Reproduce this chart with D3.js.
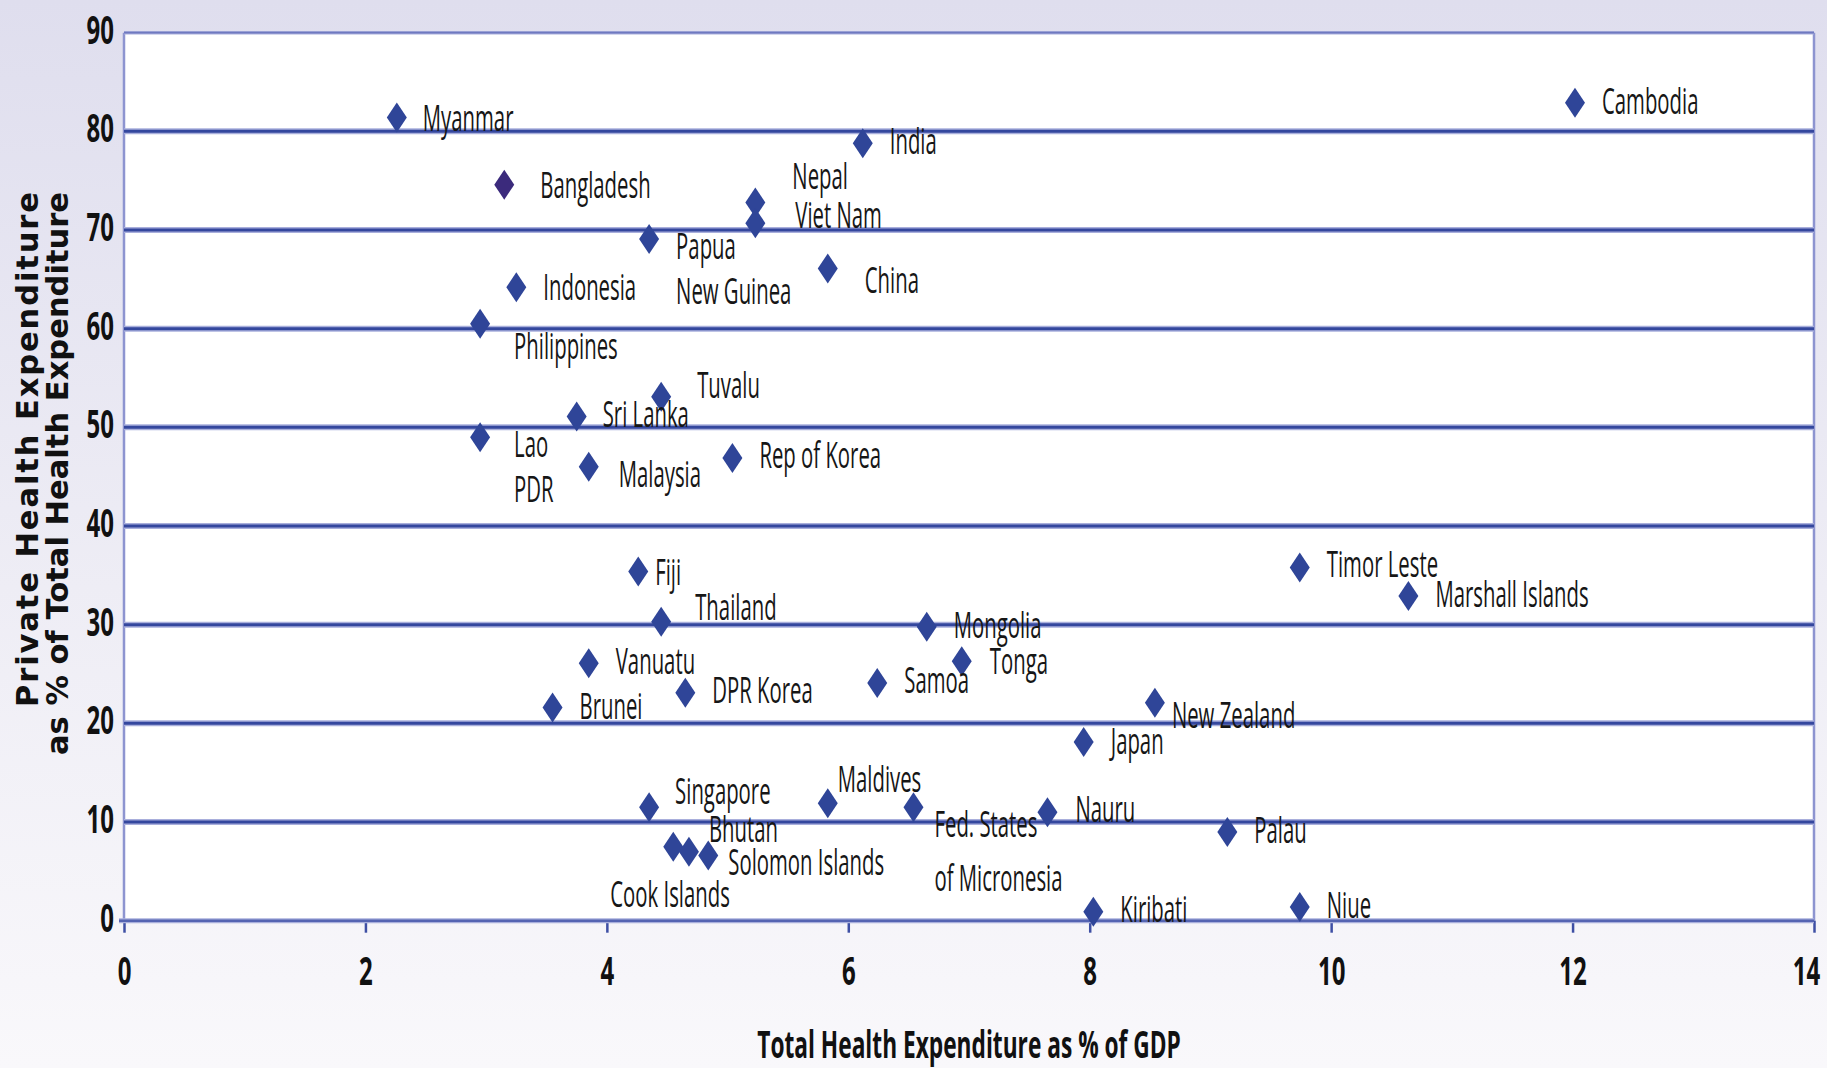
<!DOCTYPE html>
<html>
<head>
<meta charset="utf-8">
<script src="https://cdn.jsdelivr.net/npm/d3@7"></script>
<style>
  html, body { margin: 0; padding: 0; background: #fff; }
  svg { display: block; }
</style>
</head>
<body>
<svg id="chart" width="1827" height="1068"></svg>
<script>
// ---------------- DATA ----------------
const countries = [
  "Myanmar", "Bangladesh", "India", "Nepal", "Viet Nam", "Papua New Guinea", "China",
  "Indonesia", "Philippines", "Tuvalu", "Sri Lanka", "Lao PDR", "Malaysia", "Rep of Korea",
  "Cambodia", "Fiji", "Thailand", "Mongolia", "Tonga", "Vanuatu", "Samoa", "DPR Korea",
  "Brunei", "New Zealand", "Japan", "Timor Leste", "Marshall Islands", "Singapore",
  "Maldives", "Fed. States of Micronesia", "Nauru", "Palau", "Cook Islands", "Bhutan",
  "Solomon Islands", "Kiribati", "Niue"
];
// Total health expenditure as % of GDP (x)
const totalHealthExpGDP = [
  2.26, 3.15, 6.12, 5.23, 5.23, 4.35, 5.83,
  3.25, 2.95, 4.45, 3.75, 2.95, 3.85, 5.04,
  12.02, 4.26, 4.45, 6.65, 6.94, 3.85, 6.24, 4.65,
  3.55, 8.54, 7.95, 9.74, 10.64, 4.35,
  5.83, 6.54, 7.65, 9.14, 4.55, 4.68,
  4.84, 8.03, 9.74
];
// Private health expenditure as % of total health expenditure (y)
const privateHealthShare = [
  81.4, 74.6, 78.8, 72.8, 70.7, 69.1, 66.1,
  64.2, 60.5, 53.1, 51.1, 49.0, 46.0, 46.9,
  82.9, 35.4, 30.3, 29.8, 26.3, 26.1, 24.1, 23.1,
  21.6, 22.1, 18.1, 35.8, 32.9, 11.5,
  11.9, 11.5, 11.0, 9.0, 7.5, 7.0,
  6.6, 0.9, 1.4
];
const highlighted = ["Bangladesh"];
const xTicks = [0, 2, 4, 6, 8, 10, 12, 14];
const yTicks = [0, 10, 20, 30, 40, 50, 60, 70, 80, 90];
const xTitle = "Total Health Expenditure as % of GDP";
const yTitleLines = ["Private Health Expenditure", "as % of Total Health Expenditure"];

// ---------------- LAYOUT (label placement, px offsets from marker) ----------------
const labelLayout = {
  "Myanmar": {dx: 26, dy: [0]},
  "Bangladesh": {dx: 36, dy: [0]},
  "India": {dx: 27, dy: [-2]},
  "Nepal": {dx: 37, dy: [-26]},
  "Viet Nam": {dx: 40, dy: [-8]},
  "Papua New Guinea": {dx: 27, dy: [7, 52], lines: ["Papua", "New Guinea"]},
  "China": {dx: 37, dy: [12]},
  "Indonesia": {dx: 27, dy: [0]},
  "Philippines": {dx: 34, dy: [22]},
  "Tuvalu": {dx: 36, dy: [-12]},
  "Sri Lanka": {dx: 26, dy: [-2]},
  "Lao PDR": {dx: 34, dy: [7, 52], lines: ["Lao", "PDR"]},
  "Malaysia": {dx: 30, dy: [7]},
  "Rep of Korea": {dx: 27, dy: [-3]},
  "Cambodia": {dx: 27, dy: [-2]},
  "Fiji": {dx: 17, dy: [1]},
  "Thailand": {dx: 34, dy: [-15]},
  "Mongolia": {dx: 27, dy: [-2]},
  "Tonga": {dx: 28, dy: [0]},
  "Vanuatu": {dx: 27, dy: [-2]},
  "Samoa": {dx: 27, dy: [-3]},
  "DPR Korea": {dx: 27, dy: [-3]},
  "Brunei": {dx: 27, dy: [-2]},
  "New Zealand": {dx: 17, dy: [12]},
  "Japan": {dx: 27, dy: [-1]},
  "Timor Leste": {dx: 27, dy: [-3]},
  "Marshall Islands": {dx: 27, dy: [-2]},
  "Singapore": {dx: 26, dy: [-16]},
  "Maldives": {dx: 10, dy: [-24]},
  "Fed. States of Micronesia": {dx: 21, dy: [17, 71], lines: ["Fed. States", "of Micronesia"]},
  "Nauru": {dx: 28, dy: [-3]},
  "Palau": {dx: 27, dy: [-2]},
  "Cook Islands": {dx: -63, dy: [47]},
  "Bhutan": {dx: 20, dy: [-23]},
  "Solomon Islands": {dx: 20, dy: [6]},
  "Kiribati": {dx: 27, dy: [-3]},
  "Niue": {dx: 27, dy: [-2]}
};

// ---------------- CHART ----------------
const W = 1827, H = 1068;
const plot = {left: 124, right: 1814, top: 32.7, bottom: 920.7};
const svg = d3.select("#chart");

const defs = svg.append("defs");
const grad = defs.append("linearGradient").attr("id", "bg").attr("x1", 0).attr("y1", 0).attr("x2", 0).attr("y2", 1);
grad.append("stop").attr("offset", "0%").attr("stop-color", "#dfdeee");
grad.append("stop").attr("offset", "55%").attr("stop-color", "#eeedf5");
grad.append("stop").attr("offset", "100%").attr("stop-color", "#f9f8fb");
svg.append("rect").attr("width", W).attr("height", H).attr("fill", "url(#bg)");

const x = d3.scaleLinear().domain([0, 14]).range([plot.left, plot.right]);
const y = d3.scaleLinear().domain([0, 90]).range([plot.bottom, plot.top]);

// plot area
svg.append("rect")
  .attr("x", x(0)).attr("y", y(90))
  .attr("width", x(14) - x(0)).attr("height", y(0) - y(90))
  .attr("fill", "#ffffff");

// vertical borders
svg.append("line").attr("x1", x(0)).attr("x2", x(0)).attr("y1", y(90)).attr("y2", y(0))
  .attr("stroke", "#8d94d0").attr("stroke-width", 2.5);
svg.append("line").attr("x1", x(14)).attr("x2", x(14)).attr("y1", y(90)).attr("y2", y(0))
  .attr("stroke", "#8d94d0").attr("stroke-width", 2.5);

// horizontal gridlines
const gridVals = yTicks.filter(v => v > 0);
const grid = svg.append("g");
grid.selectAll("line.halo").data(gridVals).join("line").attr("class", "halo")
  .attr("x1", x(0)).attr("x2", x(14))
  .attr("y1", d => y(d)).attr("y2", d => y(d))
  .attr("stroke", "#a9afdc").attr("stroke-width", d => d === 90 ? 3.5 : 6);
grid.selectAll("line.core").data(gridVals).join("line").attr("class", "core")
  .attr("x1", x(0)).attr("x2", x(14))
  .attr("y1", d => y(d)).attr("y2", d => y(d))
  .attr("stroke", d => d === 90 ? "#6f79c0" : "#34479e").attr("stroke-width", d => d === 90 ? 1.8 : 3);

// x axis
const xAxis = d3.axisBottom(x).tickValues(xTicks).tickFormat(d3.format("d"))
  .tickSizeInner(12).tickSizeOuter(0).tickPadding(24);
const gx = svg.append("g").attr("transform", `translate(0,${y(0)})`).call(xAxis);
gx.select(".domain").remove();
gx.append("line").attr("x1", x(0) - 5).attr("x2", x(14)).attr("y1", 0).attr("y2", 0)
  .attr("stroke", "#a9afdc").attr("stroke-width", 5);
gx.append("line").attr("x1", x(0) - 5).attr("x2", x(14)).attr("y1", 0).attr("y2", 0)
  .attr("stroke", "#5564b2").attr("stroke-width", 2.5);
gx.selectAll(".tick line").attr("stroke", "#3e4fa4").attr("stroke-width", 2.5);
gx.selectAll(".tick text")
  .attr("font-family", "'Open Sans', 'Liberation Sans', sans-serif")
  .attr("font-weight", "bold").attr("font-size", 40).attr("fill", "#111")
  .attr("transform", (d, i, n) => `translate(${i === n.length - 1 ? -8 : 0},0) scale(0.6,1)`);

// y axis
const yAxis = d3.axisLeft(y).tickValues(yTicks).tickFormat(d3.format("d"))
  .tickSize(0).tickPadding(0);
const gy = svg.append("g").attr("transform", `translate(${x(0)},0)`).call(yAxis);
gy.select(".domain").remove();
gy.selectAll(".tick text")
  .attr("x", 0).attr("dy", "0.26em")
  .attr("font-family", "'Open Sans', 'Liberation Sans', sans-serif")
  .attr("font-weight", "bold").attr("font-size", 40).attr("fill", "#111")
  .attr("text-anchor", "end")
  .attr("transform", "translate(-10,0) scale(0.6,1)");

// points
const pts = countries.map((c, i) => ({name: c, xv: totalHealthExpGDP[i], yv: privateHealthShare[i]}));
const diamond = "M0,-15L10,0L0,15L-10,0Z";
svg.append("g").selectAll("path").data(pts).join("path")
  .attr("d", diamond)
  .attr("transform", d => `translate(${x(d.xv)},${y(d.yv)})`)
  .attr("fill", d => highlighted.includes(d.name) ? "#3b2a7c" : "#2f4598");

// labels
const lg = svg.append("g");
pts.forEach(d => {
  const L = labelLayout[d.name];
  const lines = L.lines || [d.name];
  lines.forEach((txt, k) => {
    lg.append("text")
      .attr("transform", `translate(${x(d.xv) + L.dx},${y(d.yv) + L.dy[k]}) scale(0.565,1)`)
      .attr("dy", "0.36em")
      .attr("font-family", "'Open Sans', 'Liberation Sans', sans-serif")
      .attr("font-size", 36).attr("fill", "#161616")
      .text(txt);
  });
});

// x title
svg.append("text")
  .attr("transform", `translate(${(x(0) + x(14)) / 2},1058) scale(0.614,1)`)
  .attr("text-anchor", "middle")
  .attr("font-family", "'Open Sans', 'Liberation Sans', sans-serif")
  .attr("font-weight", "bold").attr("font-size", 37).attr("fill", "#111")
  .text(xTitle);

// y title (lines aligned at their top end)
const yTitleX = [27, 57];
const yTitleLen = [515, 563];
yTitleLines.forEach((t, k) => {
  svg.append("text")
    .attr("transform", `translate(${yTitleX[k]},192) rotate(-90)`)
    .attr("text-anchor", "end").attr("dy", "0.36em")
    .attr("textLength", yTitleLen[k]).attr("lengthAdjust", "spacing")
    .attr("font-family", "'DejaVu Sans', Verdana, sans-serif")
    .attr("font-weight", "bold").attr("font-size", 30.5).attr("fill", "#111")
    .text(t);
});
</script>
</body>
</html>
